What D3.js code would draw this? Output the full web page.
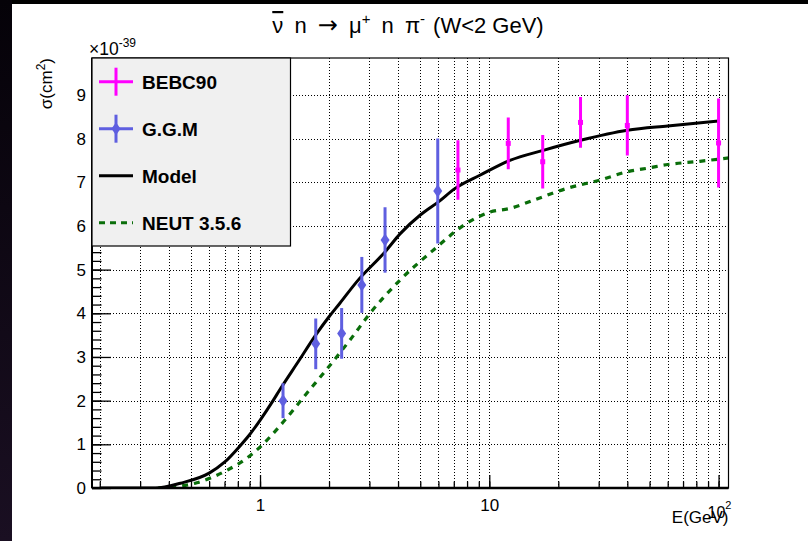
<!DOCTYPE html>
<html>
<head>
<meta charset="utf-8">
<script src="https://cdn.jsdelivr.net/npm/d3@7"></script>
<style>
  body { margin: 0; background: #000; }
  svg { display: block; font-family: "Liberation Sans", Arial, Helvetica, sans-serif; }
</style>
</head>
<body>
<svg width="808" height="541"></svg>
<script>
// data (sigma in units of 1e-39 cm^2, E in GeV)
const bebcE = [7.3, 12.1, 17.1, 25, 40, 100];
const bebcSigma = [7.28, 7.89, 7.47, 8.37, 8.3, 7.9];
const bebcErr = [0.68, 0.59, 0.61, 0.58, 0.69, 1.02];

const ggmE = [1.26, 1.75, 2.27, 2.78, 3.51, 5.96];
const ggmSigma = [2.0, 3.3, 3.54, 4.65, 5.68, 6.8];
const ggmErr = [0.4, 0.58, 0.58, 0.64, 0.75, 1.2];

const modelE = [0.2, 0.35, 0.45, 0.6, 0.7, 0.82, 0.9, 1.0, 1.14, 1.22, 1.45, 1.77, 2.0, 2.23, 2.64, 3.5, 4.1, 5.0, 6.0, 7.1, 9.1, 12.3, 17.2, 25, 40, 60, 100];
const modelSigma = [0, 0, 0.11, 0.34, 0.59, 0.97, 1.22, 1.55, 2.0, 2.25, 2.85, 3.54, 3.92, 4.23, 4.72, 5.4, 5.83, 6.25, 6.55, 6.86, 7.16, 7.5, 7.73, 7.96, 8.19, 8.29, 8.4];

const neutE = [0.36, 0.43, 0.53, 0.72, 0.875, 1.02, 1.22, 1.6, 2.02, 2.47, 3.02, 4.08, 5.71, 7.97, 10.1, 12.3, 15.6, 21.8, 30.4, 40, 50, 59, 83, 112];
const neutSigma = [0, 0.03, 0.12, 0.41, 0.68, 0.98, 1.42, 2.17, 2.81, 3.39, 4.0, 4.76, 5.45, 6.06, 6.32, 6.4, 6.59, 6.86, 7.05, 7.24, 7.33, 7.4, 7.48, 7.56];

const yMajor = [0, 1, 2, 3, 4, 5, 6, 7, 8, 9];
const legendNames = ['BEBC90', 'G.G.M', 'Model', 'NEUT 3.5.6'];

const magenta = '#ff00ff', blue = '#5f5fe0', green = '#0a6e0a';
const L = 92, T = 58, R = 728.5, B = 488;

const svg = d3.select('svg');

// screen background: black band on top, dark strip on left
const defs = svg.append('defs');
const grad = defs.append('linearGradient').attr('id', 'strip').attr('x1', 0).attr('y1', 0).attr('x2', 0).attr('y2', 1);
grad.append('stop').attr('offset', '0%').attr('stop-color', '#050208');
grad.append('stop').attr('offset', '100%').attr('stop-color', '#1a0f22');
svg.append('rect').attr('x', 0).attr('y', 0).attr('width', 808).attr('height', 541).attr('fill', '#000');
svg.append('rect').attr('x', 0).attr('y', 0).attr('width', 12).attr('height', 541).attr('fill', 'url(#strip)');
svg.append('rect').attr('x', 12).attr('y', 4).attr('width', 796).attr('height', 537).attr('fill', '#fff');

defs.append('clipPath').attr('id', 'clip')
  .append('rect').attr('x', L).attr('y', T).attr('width', R - L).attr('height', B - T);

const x = d3.scaleLog().domain([0.185, 110.5]).range([L, R]);
const y = d3.scaleLinear().domain([0, 9.845]).range([B, T]);

const xTicks = x.ticks();
const xMajor = xTicks.filter(v => Math.abs(Math.log10(v) - Math.round(Math.log10(v))) < 1e-9);
const yMinor = d3.range(0, 9.85, 0.2);

// grid
const grid = svg.append('g').attr('stroke', '#000').attr('stroke-width', 1)
  .attr('stroke-dasharray', '1,2').attr('shape-rendering', 'crispEdges');
grid.selectAll('.gx').data(xTicks).enter().append('line')
  .attr('x1', d => Math.round(x(d)) + 0.5).attr('x2', d => Math.round(x(d)) + 0.5)
  .attr('y1', T).attr('y2', B);
grid.selectAll('.gy').data(yMajor.slice(1)).enter().append('line')
  .attr('x1', L).attr('x2', R)
  .attr('y1', d => Math.round(y(d)) + 0.5).attr('y2', d => Math.round(y(d)) + 0.5);

// curves
const plot = svg.append('g').attr('clip-path', 'url(#clip)');
const line = d3.line().x(d => x(d[0])).y(d => y(d[1])).curve(d3.curveMonotoneX);

plot.append('path')
  .datum(neutE.map((e, i) => [e, neutSigma[i]]))
  .attr('d', line).attr('fill', 'none').attr('stroke', green)
  .attr('stroke-width', 3.2).attr('stroke-dasharray', '6,6');

plot.append('path')
  .datum(modelE.map((e, i) => [e, modelSigma[i]]))
  .attr('d', line).attr('fill', 'none').attr('stroke', '#000').attr('stroke-width', 3);

// data points with error bars
const bebc = plot.selectAll('.bebc').data(bebcE.map((e, i) => ({e: e, s: bebcSigma[i], err: bebcErr[i]})))
  .enter().append('g');
bebc.append('line')
  .attr('x1', d => x(d.e)).attr('x2', d => x(d.e))
  .attr('y1', d => y(d.s + d.err)).attr('y2', d => y(d.s - d.err))
  .attr('stroke', magenta).attr('stroke-width', 3);
bebc.append('rect')
  .attr('x', d => x(d.e) - 2.5).attr('y', d => y(d.s) - 2.5)
  .attr('width', 5).attr('height', 5).attr('fill', magenta);

const ggm = plot.selectAll('.ggm').data(ggmE.map((e, i) => ({e: e, s: ggmSigma[i], err: ggmErr[i]})))
  .enter().append('g');
ggm.append('line')
  .attr('x1', d => x(d.e)).attr('x2', d => x(d.e))
  .attr('y1', d => y(d.s + d.err)).attr('y2', d => y(d.s - d.err))
  .attr('stroke', blue).attr('stroke-width', 3);
const diamond = (cx, cy) => `M${cx},${cy - 6.5}L${cx + 4.5},${cy}L${cx},${cy + 6.5}L${cx - 4.5},${cy}Z`;
ggm.append('path')
  .attr('d', d => diamond(x(d.e), y(d.s))).attr('fill', blue);

// frame
svg.append('rect').attr('x', L).attr('y', T).attr('width', R - L).attr('height', B - T)
  .attr('fill', 'none').attr('stroke', '#000').attr('stroke-width', 1.2);

// axes
const axisStyle = g => {
  g.select('.domain').remove();
  g.selectAll('line').attr('stroke', '#000').attr('stroke-width', 1.3);
};
svg.append('g').attr('transform', `translate(0,${B})`)
  .call(d3.axisBottom(x).tickValues(xTicks).tickSize(-6.5).tickFormat(''))
  .call(axisStyle);
svg.append('g').attr('transform', `translate(0,${B})`)
  .call(d3.axisBottom(x).tickValues(xMajor).tickSize(-13).tickPadding(11)
    .tickFormat(d => d >= 100 ? '' : d3.format('d')(d)))
  .call(axisStyle)
  .selectAll('text').attr('font-size', 17).attr('fill', '#000').attr('font-family', null);

svg.append('g').attr('transform', `translate(${L},0)`)
  .call(d3.axisLeft(y).tickValues(yMinor).tickSize(-9.5).tickFormat(''))
  .call(axisStyle);
svg.append('g').attr('transform', `translate(${L},0)`)
  .call(d3.axisLeft(y).tickValues(yMajor).tickSize(-19).tickPadding(6).tickFormat(d3.format('d')))
  .call(axisStyle)
  .selectAll('text').attr('font-size', 17).attr('fill', '#000').attr('font-family', null);

svg.append('line').attr('x1', L).attr('x2', R).attr('y1', B).attr('y2', B)
  .attr('stroke', '#000').attr('stroke-width', 2.5);
svg.append('line').attr('x1', L).attr('x2', L).attr('y1', T).attr('y2', B)
  .attr('stroke', '#000').attr('stroke-width', 2);

// 10^2 label
const hundred = svg.append('text').attr('x', x(100) - 11).attr('y', 518).attr('font-size', 16);
hundred.append('tspan').text('10');
hundred.append('tspan').attr('font-size', 11).attr('dy', -9).text('2');

// axis titles
const xt = svg.append('text').attr('x', R).attr('y', 523).attr('text-anchor', 'end').attr('font-size', 17);
xt.text('E(GeV)');

const yt = svg.append('text').attr('transform', `translate(52,${T}) rotate(-90)`)
  .attr('text-anchor', 'end').attr('font-size', 17);
yt.append('tspan').text('σ(cm');
yt.append('tspan').attr('font-size', 12).attr('dy', -7).text('2');
yt.append('tspan').attr('dy', 7).text(')');

const mult = svg.append('text').attr('x', 89).attr('y', 55).attr('font-size', 17.5);
mult.append('tspan').text('×10');
mult.append('tspan').attr('font-size', 12).attr('dy', -8).text('-39');

// title
const title = svg.append('text').attr('x', 408).attr('y', 33).attr('text-anchor', 'middle')
  .attr('font-size', 22);
title.append('tspan').attr('text-decoration', 'overline').text('ν');
title.append('tspan').attr('word-spacing', 5).text(' n ');
title.append('tspan').attr('font-family', 'DejaVu Sans').attr('font-size', 24).text('→');
title.append('tspan').attr('word-spacing', 5).text(' μ');
title.append('tspan').attr('font-size', 15).attr('dy', -9).text('+');
title.append('tspan').attr('dy', 9).attr('word-spacing', 5).text(' n π');
title.append('tspan').attr('font-size', 15).attr('dy', -9).text('-');
title.append('tspan').attr('dy', 9).attr('dx', 8).text('(W<2 GeV)');

// legend
const leg = svg.append('g');
leg.append('rect').attr('x', L).attr('y', T).attr('width', 198.5).attr('height', 188)
  .attr('fill', '#f0f0f0').attr('stroke', '#000').attr('stroke-width', 1.2);
const rowY = d3.scalePoint().domain(legendNames).range([81.7, 222.7]);
leg.selectAll('.lt').data(legendNames).enter().append('text')
  .attr('x', 142).attr('y', d => rowY(d)).attr('dy', '0.36em')
  .attr('font-size', 19).attr('font-weight', 'bold').text(d => d);

const ly1 = rowY('BEBC90'), ly2 = rowY('G.G.M');
leg.append('line').attr('x1', 99).attr('x2', 133).attr('y1', ly1).attr('y2', ly1).attr('stroke', magenta).attr('stroke-width', 3);
leg.append('line').attr('x1', 116).attr('x2', 116).attr('y1', ly1 - 14).attr('y2', ly1 + 14).attr('stroke', magenta).attr('stroke-width', 3);
leg.append('line').attr('x1', 99).attr('x2', 133).attr('y1', ly2).attr('y2', ly2).attr('stroke', blue).attr('stroke-width', 3);
leg.append('line').attr('x1', 116).attr('x2', 116).attr('y1', ly2 - 14).attr('y2', ly2 + 14).attr('stroke', blue).attr('stroke-width', 3);
leg.append('path').attr('d', diamond(116, ly2)).attr('fill', blue);
leg.append('line').attr('x1', 99).attr('x2', 133).attr('y1', rowY('Model')).attr('y2', rowY('Model'))
  .attr('stroke', '#000').attr('stroke-width', 3);
leg.append('line').attr('x1', 99).attr('x2', 133).attr('y1', rowY('NEUT 3.5.6')).attr('y2', rowY('NEUT 3.5.6'))
  .attr('stroke', green).attr('stroke-width', 3).attr('stroke-dasharray', '6,5');
</script>
</body>
</html>
